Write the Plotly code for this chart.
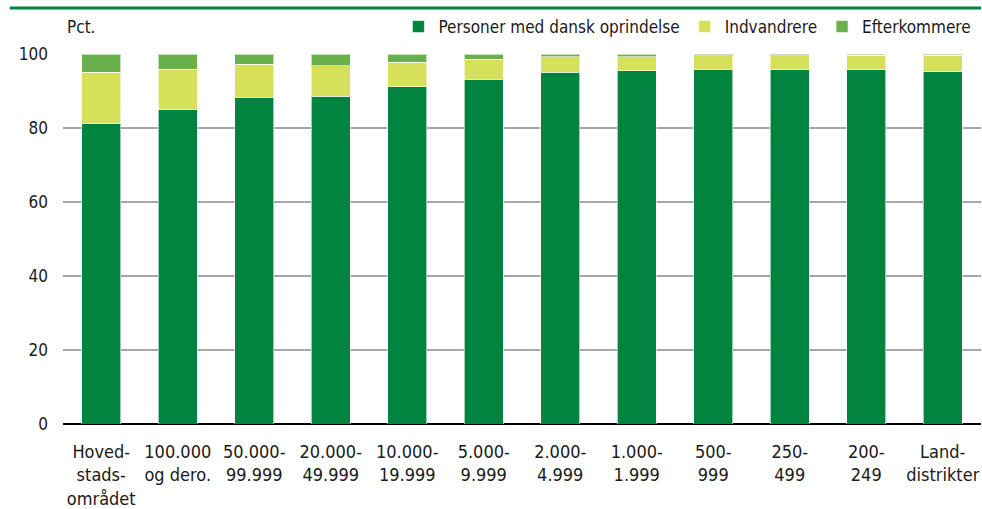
import plotly.graph_objects as go

categories = ["Hoved-<br>stads-<br>området", "100.000<br>og dero.", "50.000-<br>99.999", "20.000-<br>49.999",
              "10.000-<br>19.999", "5.000-<br>9.999", "2.000-<br>4.999", "1.000-<br>1.999",
              "500-<br>999", "250-<br>499", "200-<br>249", "Land-<br>distrikter"]
dansk = [81.1, 84.9, 88.3, 88.6, 91.1, 93.2, 95.1, 95.5, 95.9, 95.7, 95.8, 95.2]
indvandrere = [14.0, 11.0, 8.9, 8.2, 6.7, 5.4, 4.2, 3.8, 3.6, 3.8, 3.8, 4.4]
efterkommere = [4.9, 4.1, 2.8, 3.2, 2.2, 1.4, 0.7, 0.7, 0.5, 0.5, 0.4, 0.4]
y_ticks = [0, 20, 40, 60, 80, 100]

FONT = "DejaVu Sans Condensed, Roboto, sans-serif"

fig = go.Figure()
for name, vals, col in [("Personer med dansk oprindelse", dansk, "#00843F"),
                        ("Indvandrere", indvandrere, "#D7E05A"),
                        ("Efterkommere", efterkommere, "#6AB04C")]:
    fig.add_trace(go.Bar(x=categories, y=vals, name=name, marker_color=col,
                         marker_line=dict(color="rgba(255,255,255,0.6)", width=1),
                         width=0.51))

fig.update_layout(
    barmode="stack",
    width=982, height=509,
    margin=dict(l=63, r=1, t=54, b=85),
    plot_bgcolor="white", paper_bgcolor="white",
    font=dict(family=FONT, size=17, color="#1a1a1a"),
    showlegend=True,
    legend=dict(orientation="h", x=0.995, xanchor="right", y=1.0 + (54 - 27) / 370, yanchor="middle",
                font=dict(size=17), itemwidth=30, traceorder="normal",
                bgcolor="rgba(0,0,0,0)"),
    xaxis=dict(showgrid=False, ticks="", tickfont=dict(size=18), showline=False,
               ticklabelstandoff=15),
    yaxis=dict(range=[0, 100], tickvals=y_ticks, showgrid=True, gridcolor="#A6A6A6",
               gridwidth=1.5, zeroline=True, zerolinecolor="#000000", zerolinewidth=2,
               tickfont=dict(size=17), ticks="", ticklabelstandoff=14),
    bargap=0.49,
    shapes=[dict(type="line", xref="paper", yref="paper", x0=-0.058, x1=1.0,
                 y0=1.0 + (54 - 8) / 370, y1=1.0 + (54 - 8) / 370,
                 line=dict(color="#00843F", width=3))],
    annotations=[dict(text="Pct.", xref="paper", yref="paper", x=0.002, y=1.0 + (54 - 27) / 370,
                      xanchor="left", yanchor="middle", showarrow=False,
                      font=dict(size=17))],
)
fig.write_html("out.html", config={"displayModeBar": False})

with open("out.html", "r", encoding="utf-8") as f:
    html = f.read()
html = html.replace("<body>", '<body style="margin:0;padding:0;overflow:hidden">', 1)
with open("out.html", "w", encoding="utf-8") as f:
    f.write(html)
